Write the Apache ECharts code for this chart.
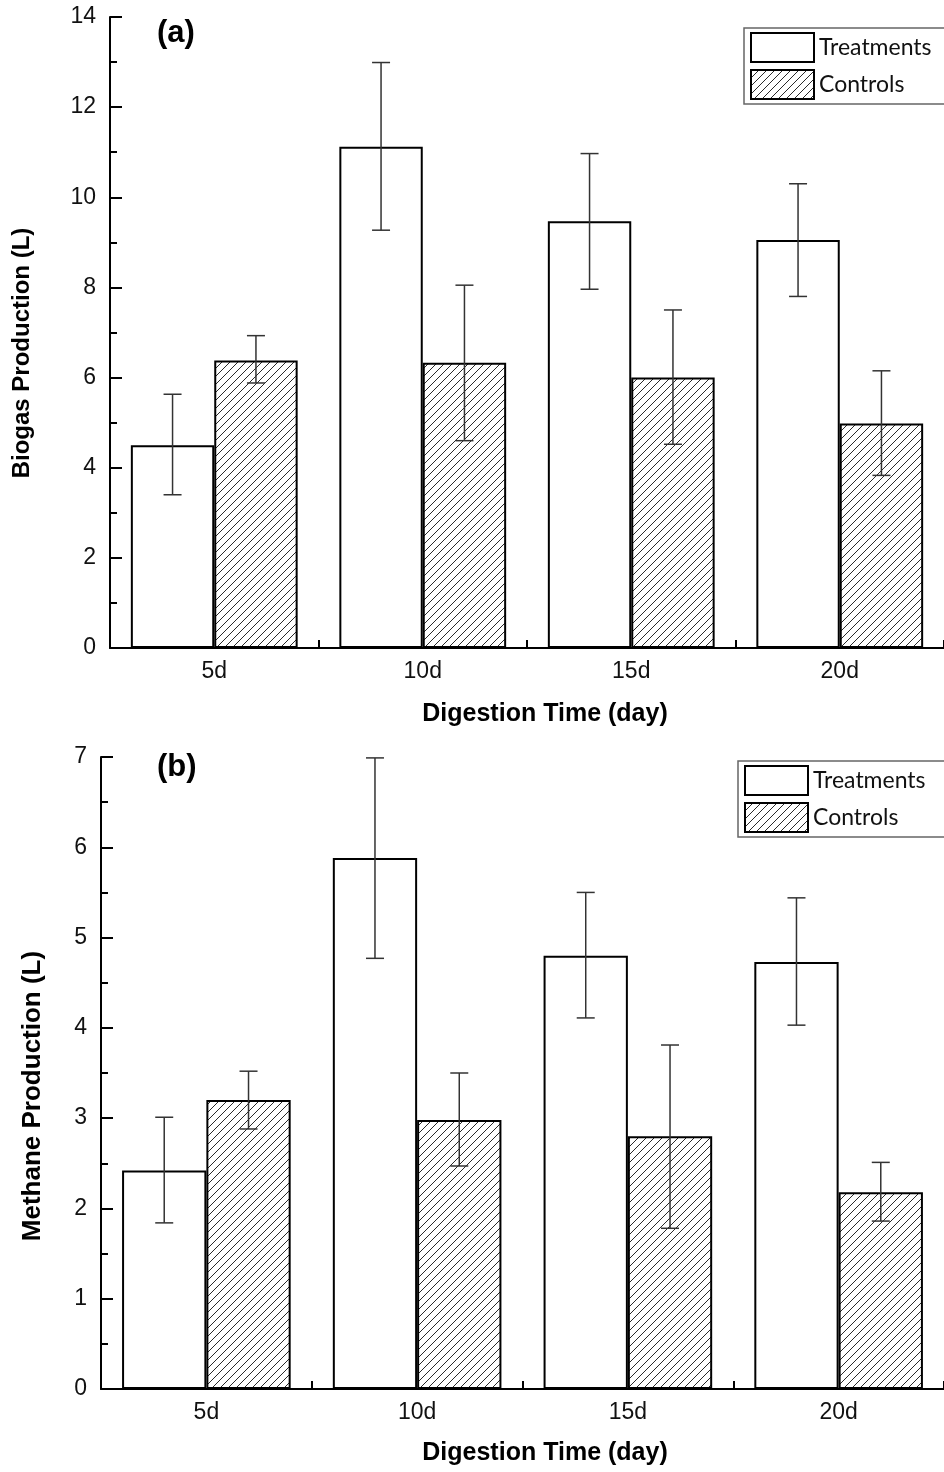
<!DOCTYPE html>
<html>
<head>
<meta charset="utf-8">
<script src="https://cdn.jsdelivr.net/npm/echarts@6/dist/echarts.min.js"></script>
<style>
html,body{margin:0;padding:0;background:#fff;}
#chart{width:944px;height:1472px;}
</style>
</head>
<body>
<div id="chart"></div>
<script>
// ---- Data ----
var categories = ['5d', '10d', '15d', '20d'];

// (a) Biogas production (L)
var biogasTreat      = [4.50, 11.12, 9.47, 9.05];
var biogasTreatLow   = [3.40, 9.27, 7.96, 7.80];
var biogasTreatHigh  = [5.63, 12.99, 10.97, 10.30];
var biogasCtrl       = [6.38, 6.33, 6.00, 4.98];
var biogasCtrlLow    = [5.88, 4.60, 4.52, 3.83];
var biogasCtrlHigh   = [6.93, 8.05, 7.50, 6.15];

// (b) Methane production (L)
var methaneTreat     = [2.42, 5.88, 4.80, 4.73];
var methaneTreatLow  = [1.84, 4.77, 4.11, 4.03];
var methaneTreatHigh = [3.01, 6.99, 5.50, 5.44];
var methaneCtrl      = [3.20, 2.98, 2.80, 2.18];
var methaneCtrlLow   = [2.88, 2.47, 1.78, 1.86];
var methaneCtrlHigh  = [3.52, 3.50, 3.81, 2.51];

var seriesNames = ['Treatments', 'Controls'];

// ---- Hatch pattern ----
function makeHatch() {
  var s = 8;
  var c = document.createElement('canvas');
  c.width = s; c.height = s;
  var ctx = c.getContext('2d');
  ctx.fillStyle = '#fff';
  ctx.fillRect(0, 0, s, s);
  ctx.strokeStyle = '#2a2a2a';
  ctx.lineWidth = 1;
  ctx.beginPath();
  ctx.moveTo(0, s); ctx.lineTo(s, 0);
  ctx.moveTo(-1, 1); ctx.lineTo(1, -1);
  ctx.moveTo(s - 1, s + 1); ctx.lineTo(s + 1, s - 1);
  ctx.stroke();
  return c;
}
var hatch = { image: makeHatch(), repeat: 'repeat' };

var AXFONT = '"Liberation Sans", Arial, sans-serif';

function pairs(low, high) {
  return categories.map(function (c, i) { return [i, low[i], high[i]]; });
}

function errRender(sign) {
  return function (params, api) {
    var idx = api.value(0);
    var lo = api.coord([idx, api.value(1)]);
    var hi = api.coord([idx, api.value(2)]);
    var band = api.size([1, 0])[0];
    var x = lo[0] + sign * band * 0.2;
    var hw = 9;
    var st = { stroke: '#333', lineWidth: 1.5 };
    return {
      type: 'group',
      children: [
        { type: 'line', shape: { x1: x, y1: hi[1], x2: x, y2: lo[1] }, style: st },
        { type: 'line', shape: { x1: x - hw, y1: hi[1], x2: x + hw, y2: hi[1] }, style: st },
        { type: 'line', shape: { x1: x - hw, y1: lo[1], x2: x + hw, y2: lo[1] }, style: st }
      ]
    };
  };
}

function xAxisCfg(gi) {
  return {
    type: 'category', gridIndex: gi, data: categories,
    axisLine: { show: true, lineStyle: { color: '#000', width: 2 } },
    axisTick: { show: true, inside: true, length: 8, alignWithLabel: false, lineStyle: { color: '#000', width: 2 } },
    axisLabel: { fontFamily: AXFONT, fontSize: 23, color: '#111', margin: 12 },
    splitLine: { show: false }
  };
}
function yAxisCfg(gi, max, interval) {
  return {
    type: 'value', gridIndex: gi, min: 0, max: max, interval: interval,
    axisLine: { show: true, lineStyle: { color: '#000', width: 2 } },
    axisTick: { show: true, inside: true, length: 12, lineStyle: { color: '#000', width: 2 } },
    minorTick: { show: true, splitNumber: 2, length: 7, lineStyle: { color: '#000', width: 2 } },
    axisLabel: { fontFamily: AXFONT, fontSize: 23, color: '#111', margin: 14 },
    splitLine: { show: false }
  };
}
function legendCfg(left, top) {
  return {
    left: left, top: top, orient: 'vertical',
    icon: 'rect', itemWidth: 63, itemHeight: 29, itemGap: 6,
    borderColor: '#666', borderWidth: 1.5, padding: [4, 40, 4, 6],
    textStyle: { fontFamily: 'Lato, "Open Sans", sans-serif', fontSize: 23, color: '#111' },
    data: [
      { name: seriesNames[0], itemStyle: { color: '#fff', borderColor: '#000', borderWidth: 2 } },
      { name: seriesNames[1], itemStyle: { color: hatch, borderColor: '#000', borderWidth: 2 } }
    ],
    selectedMode: false
  };
}

function barSeries(name, gi, data, isCtrl) {
  return {
    name: name, type: 'bar', xAxisIndex: gi, yAxisIndex: gi, data: data,
    barGap: '0%', barCategoryGap: '20%',
    itemStyle: { color: isCtrl ? hatch : '#fff', borderColor: '#000', borderWidth: 2 },
    emphasis: { disabled: true },
    z: 2
  };
}
function errSeries(gi, low, high, sign) {
  return {
    type: 'custom', xAxisIndex: gi, yAxisIndex: gi,
    data: pairs(low, high), renderItem: errRender(sign), z: 10, silent: true
  };
}

var chart = echarts.init(document.getElementById('chart'), null, { renderer: 'canvas' });
chart.setOption({
  backgroundColor: '#fff',
  animation: false,
  grid: [
    { left: 110, top: 17, width: 848, height: 631 },
    { left: 101, top: 757, width: 848, height: 632 }
  ],
  xAxis: [xAxisCfg(0), xAxisCfg(1)],
  yAxis: [yAxisCfg(0, 14, 2), yAxisCfg(1, 7, 1)],
  legend: [legendCfg(744, 28), legendCfg(738, 761)],
  series: [
    barSeries(seriesNames[0], 0, biogasTreat, false),
    barSeries(seriesNames[1], 0, biogasCtrl, true),
    errSeries(0, biogasTreatLow, biogasTreatHigh, -1),
    errSeries(0, biogasCtrlLow, biogasCtrlHigh, 1),
    barSeries(seriesNames[0], 1, methaneTreat, false),
    barSeries(seriesNames[1], 1, methaneCtrl, true),
    errSeries(1, methaneTreatLow, methaneTreatHigh, -1),
    errSeries(1, methaneCtrlLow, methaneCtrlHigh, 1)
  ],
  graphic: [
    { type: 'text', left: 157, top: 18, style: { text: '(a)', font: 'bold 31px "Liberation Sans", Arial', fill: '#000' } },
    { type: 'text', left: 157, top: 752, style: { text: '(b)', font: 'bold 31px "Liberation Sans", Arial', fill: '#000' } },
    { type: 'text', x: 22, y: 353, rotation: Math.PI / 2, style: { text: 'Biogas Production (L)', font: 'bold 24px "Liberation Sans", Arial', fill: '#000', align: 'center', verticalAlign: 'middle' } },
    { type: 'text', x: 33, y: 1096, rotation: Math.PI / 2, style: { text: 'Methane Production (L)', font: 'bold 26px "Liberation Sans", Arial', fill: '#000', align: 'center', verticalAlign: 'middle' } },
    { type: 'text', x: 545, y: 714, style: { text: 'Digestion Time (day)', font: 'bold 25px "Liberation Sans", Arial', fill: '#000', align: 'center', verticalAlign: 'middle' } },
    { type: 'text', x: 545, y: 1453, style: { text: 'Digestion Time (day)', font: 'bold 25px "Liberation Sans", Arial', fill: '#000', align: 'center', verticalAlign: 'middle' } }
  ]
});
</script>
</body>
</html>
